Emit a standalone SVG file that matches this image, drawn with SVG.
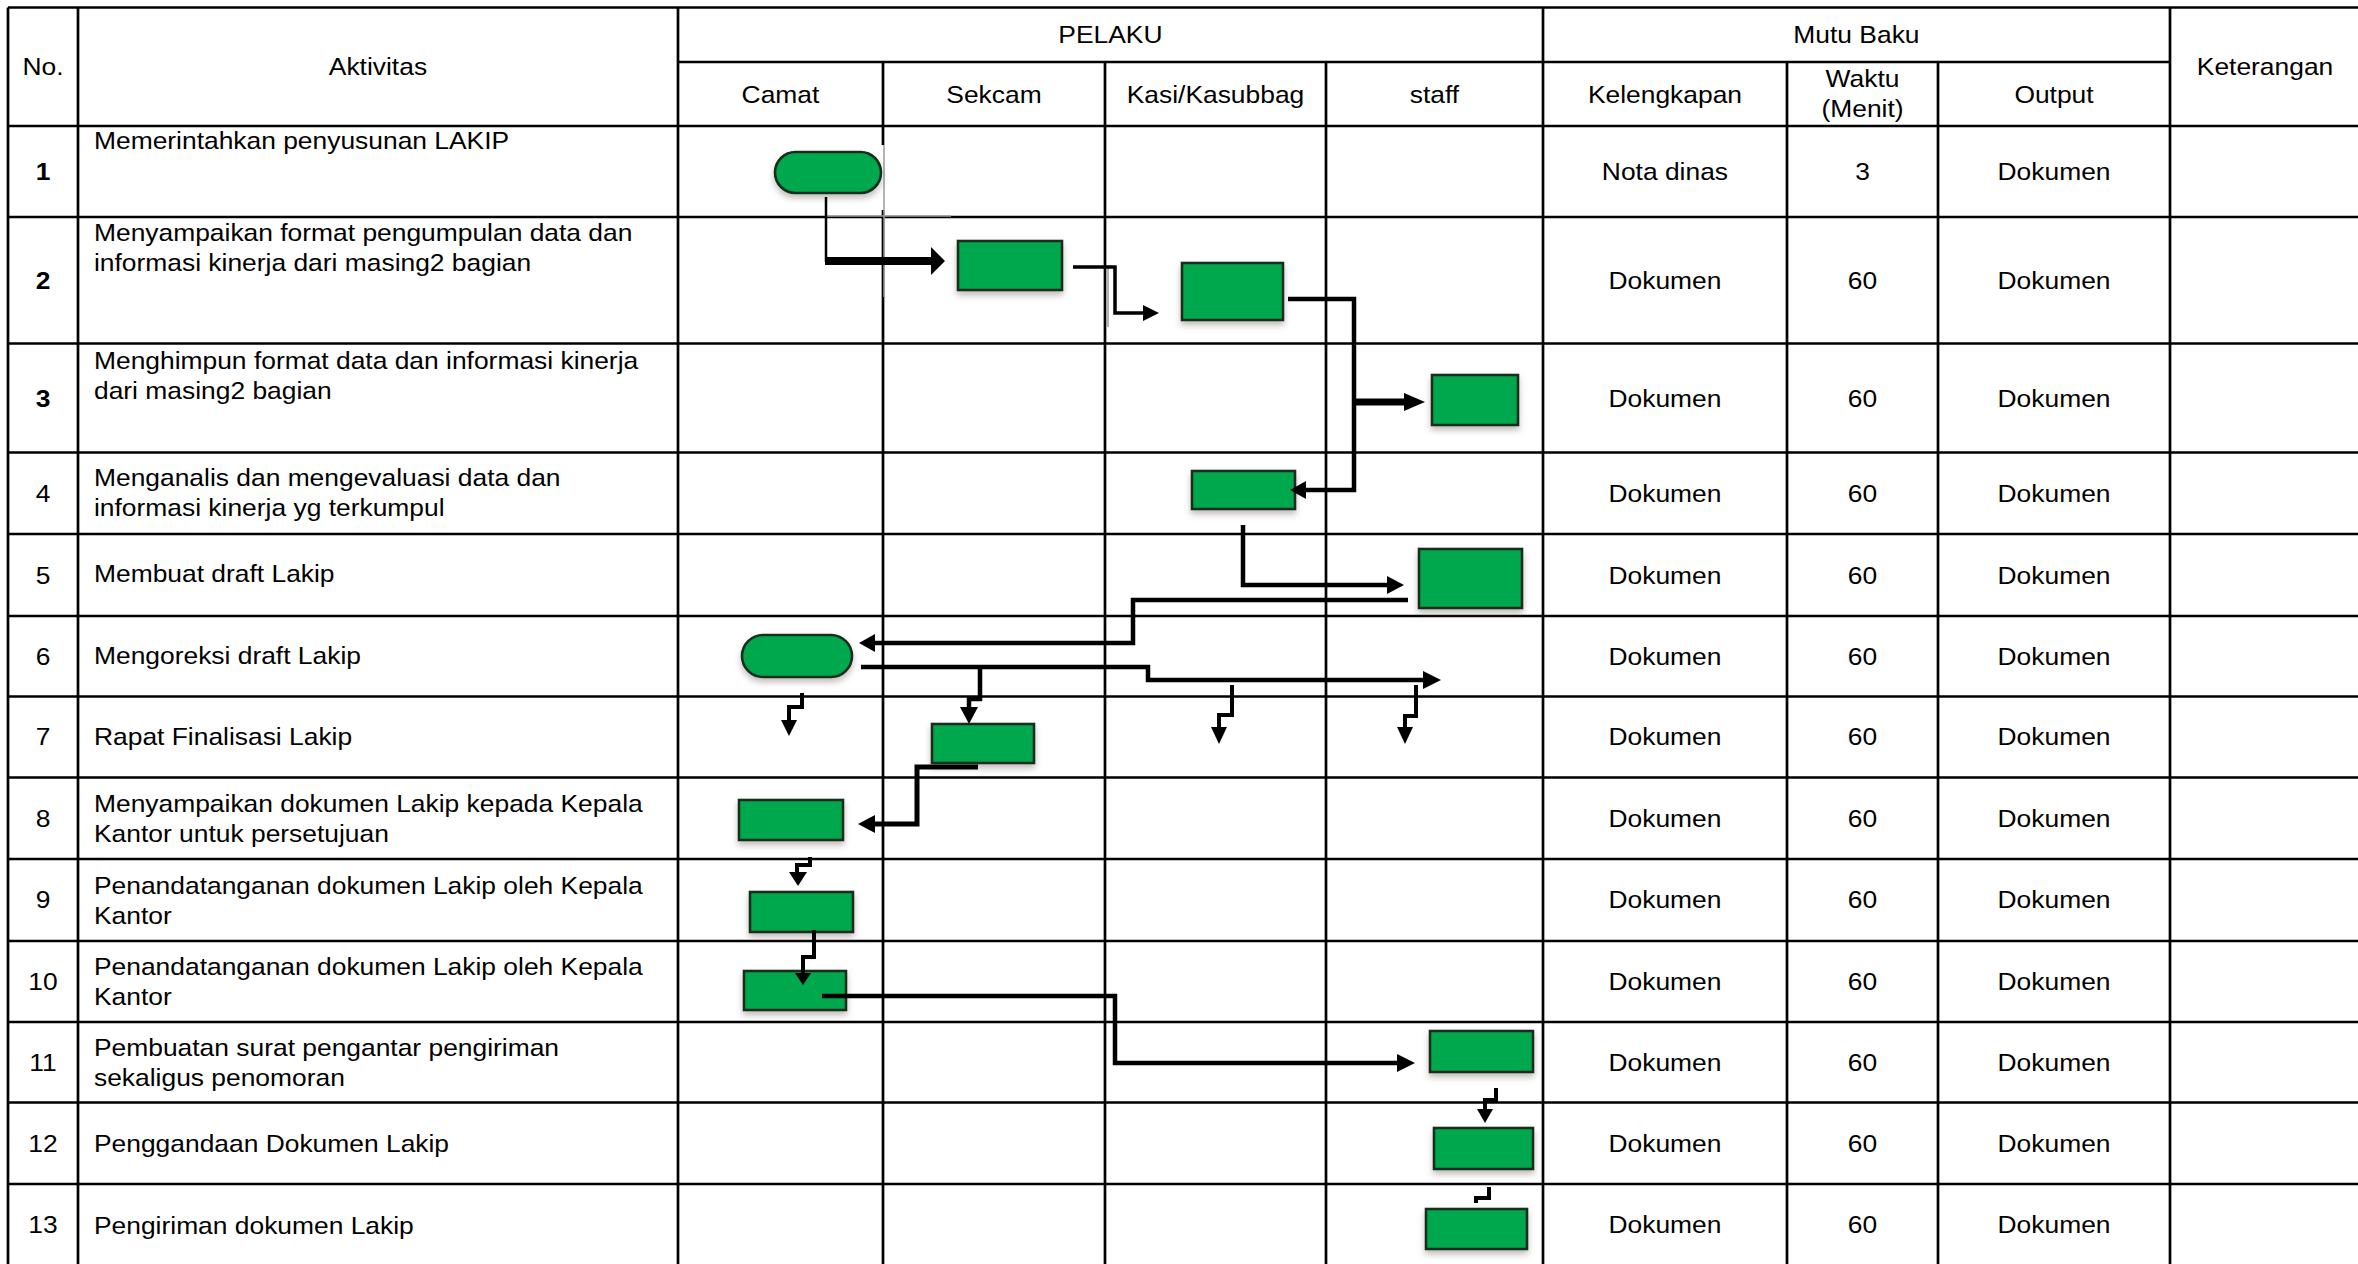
<svg xmlns="http://www.w3.org/2000/svg" width="2358" height="1264" viewBox="0 0 2358 1264">
<defs>
<style>
.g{stroke:#000;stroke-width:2.7;fill:none}
.gl{stroke:#9a9a9a;stroke-width:1.5;fill:none}
.t{font-family:"Liberation Sans",Arial,sans-serif;font-size:24px;fill:#000}
.c{text-anchor:middle}
.b{font-weight:bold}
.box{fill:#03A84E;stroke:#142E1A;stroke-width:2.6}
.ln{fill:none;stroke:#000;stroke-width:4.5;stroke-linejoin:miter;stroke-linecap:butt}
.ah{fill:#000}
</style>
<filter id="sh" x="-20%" y="-20%" width="140%" height="170%"><feDropShadow dx="0" dy="4" stdDeviation="3" flood-color="#7a6a6a" flood-opacity="0.45"/></filter>
</defs>
<rect width="2358" height="1264" fill="#fff"/>
<g id="grid">
<path class="g" d="M8,7.5H2358 M678,62H2170 M8,126H2358 M8,217H2358 M8,343.5H2358 M8,452.5H2358 M8,534H2358 M8,616H2358 M8,696.5H2358 M8,777.5H2358 M8,859H2358 M8,941H2358 M8,1022H2358 M8,1102.5H2358 M8,1184H2358"/>
<path class="g" d="M8,7.5V1264 M78,7.5V1264 M678,7.5V1264 M883,62V145 M883,210V1264 M1105,62V1264 M1326,62V1264 M1543,7.5V1264 M1787,62V1264 M1938,62V1264 M2170,7.5V1264"/>
<path class="gl" d="M884,145V297 M826,216H951 M1108,265V327"/>
</g>
<g id="texts" transform="scale(1.1,1)">
<text class="t c" x="39.1" y="75">No.</text>
<text class="t c" x="343.6" y="75">Aktivitas</text>
<text class="t c" x="1009.5" y="43">PELAKU</text>
<text class="t c" x="709.5" y="102.6">Camat</text>
<text class="t c" x="903.6" y="102.6">Sekcam</text>
<text class="t c" x="1105" y="102.6">Kasi/Kasubbag</text>
<text class="t c" x="1304.1" y="102.6">staff</text>
<text class="t c" x="1687.7" y="43">Mutu Baku</text>
<text class="t c" x="1513.6" y="102.6">Kelengkapan</text>
<text class="t c" x="1693.2" y="86.6">Waktu</text>
<text class="t c" x="1693.2" y="116.6">(Menit)</text>
<text class="t c" x="1867.3" y="102.6">Output</text>
<text class="t c" x="2059.1" y="75">Keterangan</text>

<text class="t c b" x="39.1" y="180.1">1</text>
<text class="t c b" x="39.1" y="288.6">2</text>
<text class="t c b" x="39.1" y="406.6">3</text>
<text class="t c" x="39.1" y="502.1">4</text>
<text class="t c" x="39.1" y="583.6">5</text>
<text class="t c" x="39.1" y="664.6">6</text>
<text class="t c" x="39.1" y="745.1">7</text>
<text class="t c" x="39.1" y="826.6">8</text>
<text class="t c" x="39.1" y="908.1">9</text>
<text class="t c" x="39.1" y="989.6">10</text>
<text class="t c" x="39.1" y="1070.6">11</text>
<text class="t c" x="39.1" y="1151.6">12</text>
<text class="t c" x="39.1" y="1232.6">13</text>

<text class="t" x="85.45" y="149">Memerintahkan penyusunan LAKIP</text>
<text class="t" x="85.45" y="241">Menyampaikan format pengumpulan data dan</text>
<text class="t" x="85.45" y="271">informasi kinerja dari masing2 bagian</text>
<text class="t" x="85.45" y="369">Menghimpun format data dan informasi kinerja</text>
<text class="t" x="85.45" y="399">dari masing2 bagian</text>
<text class="t" x="85.45" y="486">Menganalis dan mengevaluasi data dan</text>
<text class="t" x="85.45" y="516">informasi kinerja yg terkumpul</text>
<text class="t" x="85.45" y="582">Membuat draft Lakip</text>
<text class="t" x="85.45" y="664">Mengoreksi draft Lakip</text>
<text class="t" x="85.45" y="745">Rapat Finalisasi Lakip</text>
<text class="t" x="85.45" y="812">Menyampaikan dokumen Lakip kepada Kepala</text>
<text class="t" x="85.45" y="842">Kantor untuk persetujuan</text>
<text class="t" x="85.45" y="894">Penandatanganan dokumen Lakip oleh Kepala</text>
<text class="t" x="85.45" y="924">Kantor</text>
<text class="t" x="85.45" y="975">Penandatanganan dokumen Lakip oleh Kepala</text>
<text class="t" x="85.45" y="1005">Kantor</text>
<text class="t" x="85.45" y="1056">Pembuatan surat pengantar pengiriman</text>
<text class="t" x="85.45" y="1086">sekaligus penomoran</text>
<text class="t" x="85.45" y="1152">Penggandaan Dokumen Lakip</text>
<text class="t" x="85.45" y="1234">Pengiriman dokumen Lakip</text>

<text class="t c" x="1513.6" y="180.1">Nota dinas</text>
<text class="t c" x="1693.2" y="180.1">3</text>
<text class="t c" x="1867.3" y="180.1">Dokumen</text>
<text class="t c" x="1513.6" y="288.6">Dokumen</text><text class="t c" x="1693.2" y="288.6">60</text><text class="t c" x="1867.3" y="288.6">Dokumen</text>
<text class="t c" x="1513.6" y="406.6">Dokumen</text><text class="t c" x="1693.2" y="406.6">60</text><text class="t c" x="1867.3" y="406.6">Dokumen</text>
<text class="t c" x="1513.6" y="502.1">Dokumen</text><text class="t c" x="1693.2" y="502.1">60</text><text class="t c" x="1867.3" y="502.1">Dokumen</text>
<text class="t c" x="1513.6" y="583.6">Dokumen</text><text class="t c" x="1693.2" y="583.6">60</text><text class="t c" x="1867.3" y="583.6">Dokumen</text>
<text class="t c" x="1513.6" y="664.6">Dokumen</text><text class="t c" x="1693.2" y="664.6">60</text><text class="t c" x="1867.3" y="664.6">Dokumen</text>
<text class="t c" x="1513.6" y="745.1">Dokumen</text><text class="t c" x="1693.2" y="745.1">60</text><text class="t c" x="1867.3" y="745.1">Dokumen</text>
<text class="t c" x="1513.6" y="826.6">Dokumen</text><text class="t c" x="1693.2" y="826.6">60</text><text class="t c" x="1867.3" y="826.6">Dokumen</text>
<text class="t c" x="1513.6" y="908.1">Dokumen</text><text class="t c" x="1693.2" y="908.1">60</text><text class="t c" x="1867.3" y="908.1">Dokumen</text>
<text class="t c" x="1513.6" y="989.6">Dokumen</text><text class="t c" x="1693.2" y="989.6">60</text><text class="t c" x="1867.3" y="989.6">Dokumen</text>
<text class="t c" x="1513.6" y="1070.6">Dokumen</text><text class="t c" x="1693.2" y="1070.6">60</text><text class="t c" x="1867.3" y="1070.6">Dokumen</text>
<text class="t c" x="1513.6" y="1151.6">Dokumen</text><text class="t c" x="1693.2" y="1151.6">60</text><text class="t c" x="1867.3" y="1151.6">Dokumen</text>
<text class="t c" x="1513.6" y="1232.6">Dokumen</text><text class="t c" x="1693.2" y="1232.6">60</text><text class="t c" x="1867.3" y="1232.6">Dokumen</text>
</g>
<g id="nodes" filter="url(#sh)">
<g id="n1"><rect class="box" x="775" y="152" width="106" height="41" rx="20.5"/></g>
<g id="n2"><rect class="box" x="958" y="241" width="104" height="49"/></g>
<g id="n3"><rect class="box" x="1182" y="263" width="101" height="57"/></g>
<g id="n4"><rect class="box" x="1432" y="375" width="86" height="50"/></g>
<g id="n5"><rect class="box" x="1192" y="471" width="103" height="38"/></g>
<g id="n6"><rect class="box" x="1419" y="549" width="103" height="59"/></g>
<g id="n7"><rect class="box" x="742" y="635" width="110" height="42" rx="21"/></g>
<g id="n8"><rect class="box" x="932" y="724" width="102" height="39"/></g>
<g id="n9"><rect class="box" x="739" y="800" width="104" height="40"/></g>
<g id="n10"><rect class="box" x="750" y="892" width="103" height="40"/></g>
<g id="n11"><rect class="box" x="744" y="971" width="102" height="39"/></g>
<g id="n12"><rect class="box" x="1430" y="1031" width="103" height="41"/></g>
<g id="n13"><rect class="box" x="1434" y="1128" width="99" height="41"/></g>
<g id="n14"><rect class="box" x="1426" y="1209" width="101" height="40"/></g>
</g>
<g id="connectors">
<path class="ln" style="stroke-width:2.5" d="M826,197V262"/>
<path class="ln" style="stroke-width:8" d="M825,261H934"/>
<polygon class="ah" points="931,247 945,261 931,275"/>
<path class="ln" style="stroke-width:3.5" d="M1073,267H1115V313H1146"/>
<polygon class="ah" points="1143,305 1159,313 1143,321"/>
<path class="ln" d="M1288,299H1354V490H1302"/>
<polygon class="ah" points="1306,481 1290,490 1306,499"/>
<path class="ln" style="stroke-width:7" d="M1354,402H1408"/>
<polygon class="ah" points="1404,393 1425,402 1404,411"/>
<path class="ln" d="M1243,525V585H1390"/>
<polygon class="ah" points="1387,576 1404,585 1387,594"/>
<path class="ln" d="M1408,600H1133V643H872"/>
<polygon class="ah" points="875,634 859,643 875,652"/>
<path class="ln" d="M861,667H1148V680H1426"/>
<polygon class="ah" points="1423,671 1441,680 1423,689"/>
<path class="ln" d="M980,667V699H969V710"/>
<polygon class="ah" points="960,707 969,724 978,707"/>
<path class="ln" style="stroke-width:4" d="M802,693V707H789V723"/>
<polygon class="ah" points="781,720 789,736 797,720"/>
<path class="ln" style="stroke-width:4" d="M1232,685V715H1219V729"/>
<polygon class="ah" points="1211,727 1219,744 1227,727"/>
<path class="ln" style="stroke-width:4" d="M1416,685V716H1405V729"/>
<polygon class="ah" points="1397,727 1405,744 1413,727"/>
<path class="ln" style="stroke-width:5" d="M978,767H917V824H872"/>
<polygon class="ah" points="875,815 858,824 875,833"/>
<path class="ln" style="stroke-width:4" d="M810,857V865H797V875"/>
<polygon class="ah" points="789,872 798,886 807,872"/>
<path class="ln" style="stroke-width:4" d="M814,930V957H803V975"/>
<polygon class="ah" points="795,973 803,985 811,973"/>
<path class="ln" d="M822,996H1115V1063H1400"/>
<polygon class="ah" points="1397,1054 1415,1063 1397,1072"/>
<path class="ln" style="stroke-width:4" d="M1496,1088V1100H1485V1112"/>
<polygon class="ah" points="1477,1109 1485,1123 1493,1109"/>
<path class="ln" style="stroke-width:4" d="M1489,1187V1198H1476V1203"/>
</g>
</svg>
